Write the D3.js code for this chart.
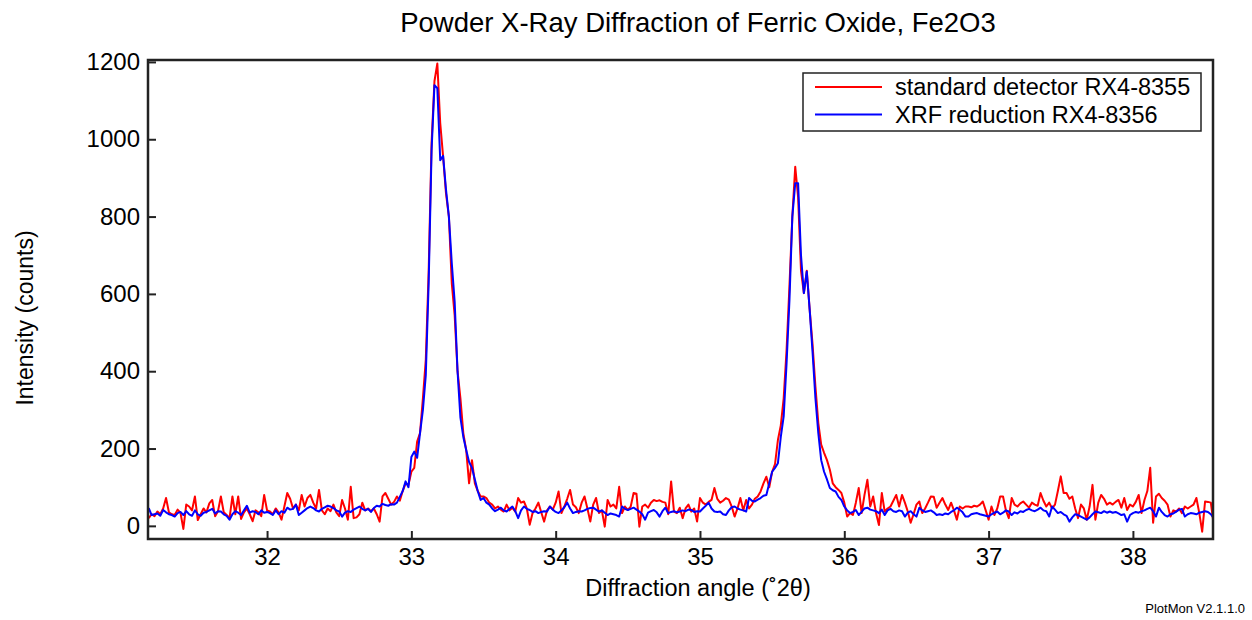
<!DOCTYPE html>
<html>
<head>
<meta charset="utf-8">
<script src="https://cdn.jsdelivr.net/npm/d3@7"></script>
<style>
  body { margin: 0; background: #fff; }
  text { font-family: "Liberation Sans", Arial, sans-serif; fill: #000; }
</style>
</head>
<body>
<div id="chart"></div>
<script>
// scan settings (degrees 2-theta)
var angleStart = 31.18;
var angleStep = 0.02;

var seriesNames = ["standard detector RX4-8355", "XRF reduction RX4-8356"];
var seriesColors = ["#ff0000", "#0000ff"];

var xTicks = [32, 33, 34, 35, 36, 37, 38];
var yTicks = [0, 200, 400, 600, 800, 1000, 1200];

// standard detector counts
var standardCounts = [
  20, 30, 25, 37, 30, 45, 72, 35, 30, 28,
  42, 34, -8, 55, 50, 40, 76, 15, 30, 45,
  35, 58, 67, 25, 38, 76, 35, 28, 20, 76,
  30, 76, 18, 35, 45, 30, 12, 40, 35, 25,
  80, 40, 37, 30, 45, 35, 16, 50, 85, 70,
  45, 55, 40, 80, 50, 72, 80, 60, 45, 93,
  40, 30, 45, 38, 55, 35, 25, 67, 45, 16,
  101, 20, 22, 30, 60, 40, 45, 38, 45, 30,
  11, 76, 85, 70, 55, 62, 76, 65, 90, 110,
  106, 140, 150, 218, 240, 330, 430, 660, 990, 1150,
  1196, 1042, 955, 860, 800, 628, 545, 400, 330, 240,
  196, 110, 170, 110, 90, 76, 76, 72, 60, 55,
  45, 50, 42, 37, 55, 40, 47, 37, 72, 60,
  63, 45, 3, 33, 45, 60, 35, 11, 40, 50,
  42, 60, 89, 33, 50, 70, 93, 55, 48, 33,
  60, 76, 45, 11, 55, 72, 33, 40, -2, 67,
  50, 55, 45, 101, 33, 50, 41, 50, 85, 83,
  -2, 50, 55, 47, 60, 67, 64, 66, 62, 60,
  30, 115, 37, 33, 47, 20, 45, 55, 37, 45,
  11, 72, 60, 55, 62, 67, 98, 70, 60, 65,
  72, 68, 50, 24, 45, 72, 40, 67, 45, 55,
  70, 76, 89, 110, 127, 100, 140, 160, 222, 260,
  330, 455, 620, 800, 929, 850, 660, 602, 660, 560,
  470, 360, 266, 210, 189, 170, 145, 110, 100, 93,
  85, 60, 24, 33, 28, 60, 98, 33, 80, 119,
  50, 76, 33, 2, 85, 37, 45, 50, 65, 80,
  50, 80, 60, 37, 8, 30, 55, 63, 33, 45,
  60, 76, 75, 47, 60, 72, 55, 41, 60, 40,
  16, 50, 45, 50, 50, 48, 52, 50, 55, 63,
  40, 16, 50, 28, 45, 76, 76, 40, 20, 72,
  55, 50, 58, 63, 55, 47, 60, 55, 52, 85,
  65, 50, 60, 45, 55, 90, 128, 85, 85, 70,
  76, 45, 20, 55, 45, 16, 50, 106, 16, 60,
  80, 70, 55, 60, 55, 62, 67, 47, 72, 41,
  55, 50, 62, 80, 33, 67, 90, 150, 8, 76,
  83, 72, 65, 55, 24, 40, 37, 45, 33, 50,
  45, 50, 55, 72, 33, -15, 63, 62, 60, 3
];

// XRF reduction counts
var xrfCounts = [
  46, 28, 30, 32, 26, 41, 35, 30, 28, 24,
  33, 36, 28, 38, 30, 26, 40, 30, 26, 34,
  36, 40, 44, 32, 38, 37, 30, 26, 16, 30,
  38, 34, 28, 40, 52, 34, 38, 36, 30, 40,
  34, 36, 33, 28, 40, 30, 38, 34, 47, 42,
  44, 55, 28, 34, 40, 46, 50, 46, 40, 37,
  44, 48, 52, 50, 46, 40, 37, 24, 34, 38,
  36, 42, 46, 50, 44, 40, 44, 36, 46, 52,
  50, 57, 54, 52, 56, 55, 60, 75, 90, 115,
  100, 178, 192, 176, 240, 300, 390, 630, 970, 1140,
  1132, 946, 957, 870, 800, 680, 580, 400, 280, 230,
  196, 165, 150, 120, 90, 67, 72, 60, 55, 45,
  38, 42, 47, 40, 37, 44, 50, 38, 20, 40,
  50, 44, 41, 36, 38, 33, 36, 38, 37, 50,
  42, 36, 33, 40, 48, 60, 45, 33, 36, 38,
  37, 40, 44, 46, 47, 42, 37, 40, 34, 28,
  32, 30, 28, 24, 50, 44, 41, 44, 47, 42,
  37, 30, 16, 34, 38, 41, 35, 24, 38, 47,
  33, 36, 38, 35, 37, 40, 38, 42, 41, 36,
  38, 37, 45, 52, 60, 45, 37, 36, 37, 30,
  28, 40, 48, 50, 45, 42, 40, 37, 72, 65,
  63, 68, 72, 78, 80, 110, 140, 150, 162, 230,
  283, 420, 584, 800, 886, 886, 700, 602, 658, 560,
  450, 330, 240, 170, 140, 120, 98, 92, 89, 75,
  67, 50, 40, 33, 36, 41, 28, 36, 45, 47,
  42, 40, 38, 33, 42, 28, 40, 44, 38, 36,
  40, 38, 24, 34, 38, 30, 24, 47, 40, 36,
  38, 40, 35, 28, 30, 28, 32, 30, 36, 40,
  47, 42, 35, 24, 24, 30, 32, 33, 30, 28,
  26, 24, 30, 34, 37, 30, 34, 40, 37, 28,
  35, 32, 38, 36, 41, 44, 40, 38, 42, 47,
  40, 38, 24, 50, 42, 33, 36, 30, 26, 11,
  22, 30, 28, 24, 20, 16, 22, 30, 37, 35,
  33, 38, 34, 37, 34, 36, 32, 28, 30, 11,
  28, 33, 36, 34, 38, 40, 44, 47, 38, 24,
  47, 36, 28, 24, 30, 32, 37, 42, 44, 24,
  30, 33, 32, 30, 34, 36, 38, 36, 30, 20
];

(function() {
  var w = 1252;
  var h = 620;
  // plot box
  var pLeft = 148, pRight = 1213, pTop = 60, pBottom = 539;

  var x = d3.scaleLinear().domain([31.175, 38.555]).range([pLeft, pRight]);
  var y = d3.scaleLinear().domain([-34, 1205]).range([pBottom, pTop]);

  var svg = d3.select("#chart").append("svg")
    .attr("width", w)
    .attr("height", h);

  // title
  svg.append("text")
    .attr("x", 698)
    .attr("y", 32)
    .attr("text-anchor", "middle")
    .style("font-size", "27.5px")
    .text("Powder X-Ray Diffraction of Ferric Oxide, Fe2O3");

  // clip for the traces
  svg.append("clipPath").attr("id", "plotclip")
    .append("rect")
    .attr("x", pLeft).attr("y", pTop)
    .attr("width", pRight - pLeft).attr("height", pBottom - pTop);

  var line = d3.line()
    .x(function(d, i) { return x(angleStart + i * angleStep); })
    .y(function(d) { return y(d); });

  var traces = svg.append("g").attr("clip-path", "url(#plotclip)");
  [standardCounts, xrfCounts].forEach(function(s, k) {
    traces.append("path")
      .datum(s)
      .attr("d", line)
      .attr("fill", "none")
      .attr("stroke", seriesColors[k])
      .attr("stroke-width", 2)
      .attr("stroke-linejoin", "round");
  });

  // x axis, ticks pointing inward
  var xAxis = svg.append("g")
    .attr("transform", "translate(0," + pBottom + ")")
    .call(d3.axisBottom(x).tickValues(xTicks).tickSizeInner(-8).tickSizeOuter(0).tickPadding(9));
  xAxis.select(".domain").remove();
  xAxis.selectAll(".tick line").attr("stroke", "#222").attr("stroke-width", 2);
  xAxis.selectAll(".tick text").style("font-size", "24px").attr("fill", "#000");

  // y axis, ticks pointing inward
  var yAxis = svg.append("g")
    .attr("transform", "translate(" + pLeft + ",0)")
    .call(d3.axisLeft(y).tickValues(yTicks).tickFormat(d3.format("d")).tickSizeInner(-8).tickSizeOuter(0).tickPadding(8));
  yAxis.select(".domain").remove();
  yAxis.selectAll(".tick line").attr("stroke", "#222").attr("stroke-width", 2);
  yAxis.selectAll(".tick text").style("font-size", "24px").attr("fill", "#000");

  // frame
  svg.append("rect")
    .attr("x", pLeft).attr("y", pTop)
    .attr("width", pRight - pLeft).attr("height", pBottom - pTop)
    .attr("fill", "none")
    .attr("stroke", "#222")
    .attr("stroke-width", 2.5);

  // axis labels
  svg.append("text")
    .attr("x", 698)
    .attr("y", 596)
    .attr("text-anchor", "middle")
    .style("font-size", "23.5px")
    .text("Diffraction angle (\u02DA2\u03B8)");

  svg.append("text")
    .attr("transform", "translate(33,318) rotate(-90)")
    .attr("text-anchor", "middle")
    .style("font-size", "23px")
    .text("Intensity (counts)");

  svg.append("text")
    .attr("x", 1245)
    .attr("y", 613)
    .attr("text-anchor", "end")
    .style("font-size", "13px")
    .text("PlotMon V2.1.1.0");

  // legend
  var legend = svg.append("g");
  legend.append("rect")
    .attr("x", 803).attr("y", 73)
    .attr("width", 398).attr("height", 58)
    .attr("fill", "#fff")
    .attr("stroke", "#222")
    .attr("stroke-width", 1.5);

  seriesNames.forEach(function(name, k) {
    var ly = 87 + k * 27.5;
    legend.append("line")
      .attr("x1", 815).attr("x2", 882)
      .attr("y1", ly).attr("y2", ly)
      .attr("stroke", seriesColors[k])
      .attr("stroke-width", 2);
    legend.append("text")
      .attr("x", 895)
      .attr("y", ly + 8)
      .style("font-size", "23.5px")
      .text(name);
  });
})();
</script>
</body>
</html>
